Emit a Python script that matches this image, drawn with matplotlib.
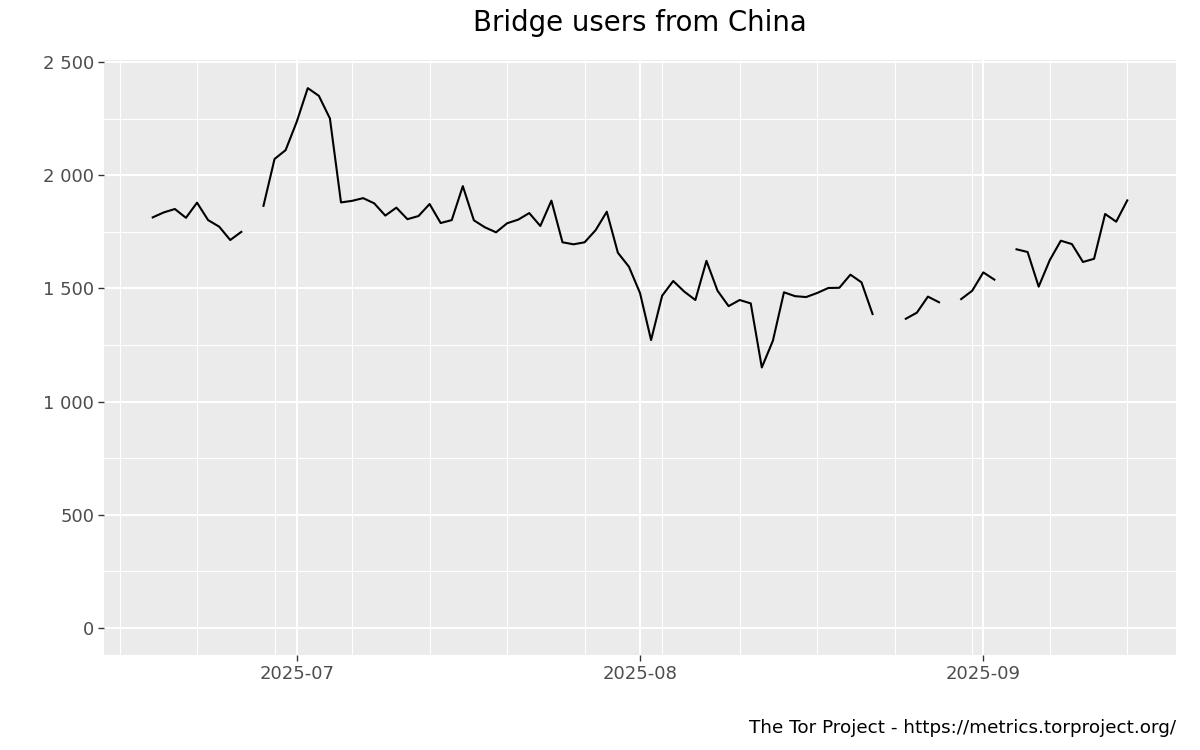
import numpy as np
import pandas as pd
import matplotlib
matplotlib.use("Agg")
import matplotlib.pyplot as plt
import matplotlib.dates as mdates
from matplotlib.ticker import FuncFormatter, MultipleLocator

# Daily bridge users from China, 2025-06-18 .. 2025-09-14 (None = no data)
start_date = "2025-06-18"
users = [
    1814, 1836, 1851, 1812, 1879, 1802, 1773, 1714, 1750, None,
    1865, 2072, 2111, 2236, 2385, 2351, 2251, 1880, 1887, 1899,
    1876, 1822, 1857, 1806, 1820, 1873, 1789, 1802, 1952, 1801,
    1770, 1748, 1788, 1804, 1833, 1776, 1888, 1704, 1695, 1704,
    1758, 1839, 1658, 1596, 1480, 1272, 1468, 1533, 1486, 1449,
    1622, 1490, 1422, 1449, 1434, 1151, 1269, 1483, 1466, 1462,
    1480, 1502, 1503, 1561, 1527, 1387, None, None, 1366, 1393,
    1464, 1439, None, 1453, 1490, 1571, 1539, None, 1673, 1661,
    1508, 1625, 1711, 1696, 1617, 1631, 1829, 1795, 1889,
]
dates = pd.date_range(start_date, periods=len(users), freq="D")
values = np.array([np.nan if v is None else v for v in users], dtype=float)

fig = plt.figure(figsize=(12, 7.5), dpi=100)
ax = fig.add_axes([104 / 1200, 95 / 750, 1072 / 1200, 595 / 750])
ax.set_facecolor("#EBEBEB")

ax.plot(dates, values, color="black", linewidth=1.5, zorder=3)

# x limits with ggplot-style 5% expansion
span = dates[-1] - dates[0]
ax.set_xlim(dates[0] - span * 0.05, dates[-1] + span * 0.05)
ax.set_ylim(-0.05 * 2385, 2385 * 1.05 + 5)

ax.xaxis.set_major_locator(mdates.MonthLocator())
ax.xaxis.set_major_formatter(mdates.DateFormatter("%Y-%m"))
ax.xaxis.set_minor_locator(mdates.WeekdayLocator(byweekday=mdates.SU))
ax.yaxis.set_major_locator(MultipleLocator(500))
ax.yaxis.set_minor_locator(MultipleLocator(250))
ax.yaxis.set_major_formatter(FuncFormatter(lambda v, p: f"{int(v):,}".replace(",", " ")))

ax.grid(which="major", color="white", linewidth=1.5)
ax.grid(which="minor", color="white", linewidth=0.75)
ax.set_axisbelow(True)
for s in ax.spines.values():
    s.set_visible(False)

ax.tick_params(which="major", length=4, width=1, color="#333333",
               labelcolor="#4D4D4D", labelsize=13, pad=3)
ax.tick_params(which="minor", length=0)

fig.text(640 / 1200, 1 - 23 / 750, "Bridge users from China",
         ha="center", va="center", fontsize=19.8, color="black")
fig.text(1176 / 1200, 1 - 728 / 750, "The Tor Project - https://metrics.torproject.org/",
         ha="right", va="center", fontsize=13.2, color="black")

fig.savefig("out.png", dpi=100)
